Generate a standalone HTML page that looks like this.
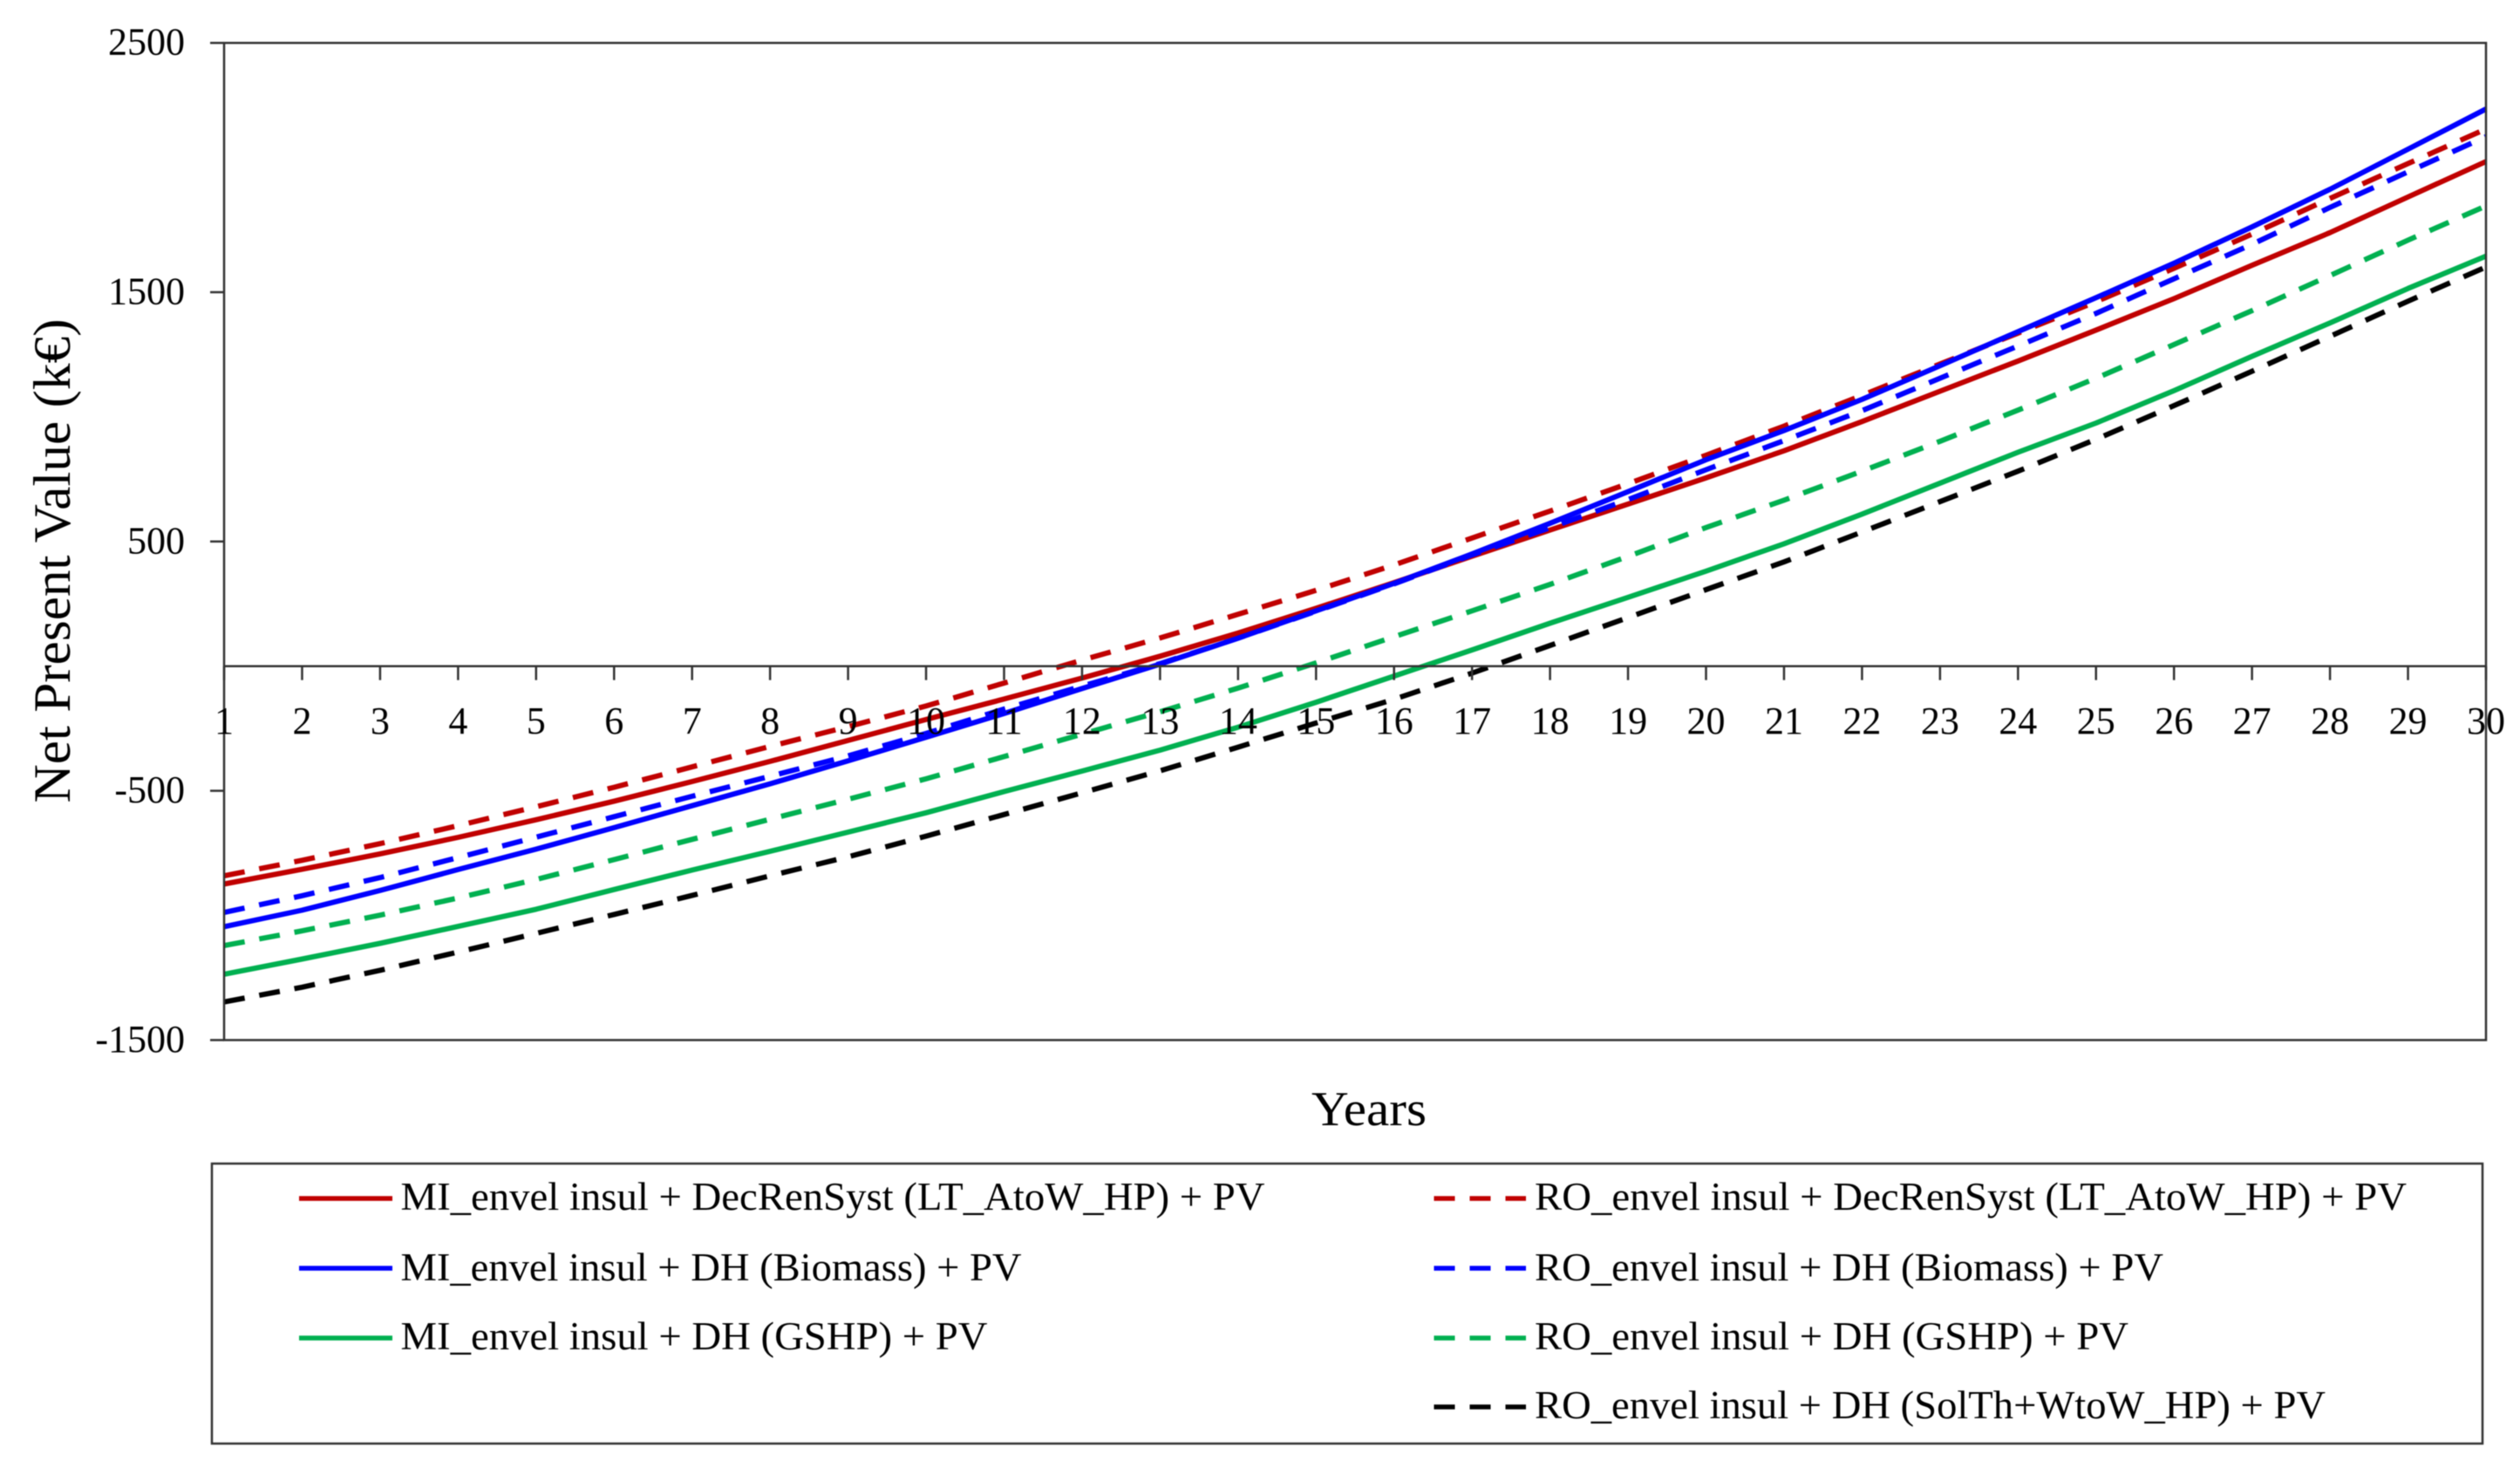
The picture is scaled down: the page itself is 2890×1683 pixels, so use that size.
<!DOCTYPE html>
<html lang="en">
<head>
<meta charset="utf-8">
<title>Net Present Value over Years</title>
<style>
html,body{margin:0;padding:0;background:#fff;}
svg{display:block;filter:blur(0.6px);}
text{font-family:"Liberation Serif",serif;fill:#000;}
</style>
</head>
<body>
<svg id="chart" xmlns="http://www.w3.org/2000/svg" width="2890" height="1683" viewBox="0 0 2890 1683">
  <rect x="0" y="0" width="2890" height="1683" fill="#fff"/>
  <g id="series-layer"></g>
  <g id="axis-layer"></g>
  <text x="1570" y="1290" font-size="56" text-anchor="middle" textLength="132" lengthAdjust="spacingAndGlyphs">Years</text>
  <text transform="translate(80 643) rotate(-90)" font-size="60" text-anchor="middle" textLength="555" lengthAdjust="spacingAndGlyphs">Net Present Value (k€)</text>
  <g>
    <rect x="243" y="1334" width="2604" height="321" fill="none" stroke="#333" stroke-width="2.5"/>
    <g>
      <line x1="343" x2="450" y1="1374" y2="1374" stroke="#C00000" stroke-width="5.5"/>
      <text x="459.5" y="1387" font-size="45" textLength="991" lengthAdjust="spacingAndGlyphs">MI_envel insul + DecRenSyst (LT_AtoW_HP) + PV</text>
    </g>
    <g>
      <line x1="343" x2="450" y1="1454" y2="1454" stroke="#0000FF" stroke-width="5.5"/>
      <text x="459.5" y="1468" font-size="45" textLength="712" lengthAdjust="spacingAndGlyphs">MI_envel insul + DH (Biomass) + PV</text>
    </g>
    <g>
      <line x1="343" x2="450" y1="1534" y2="1534" stroke="#00B050" stroke-width="5.5"/>
      <text x="459.5" y="1547" font-size="45" textLength="673" lengthAdjust="spacingAndGlyphs">MI_envel insul + DH (GSHP) + PV</text>
    </g>
    <g>
      <line x1="1644.5" x2="1750" y1="1374" y2="1374" stroke="#C00000" stroke-width="5.5" stroke-dasharray="24 17"/>
      <text x="1760" y="1387" font-size="45" textLength="1000" lengthAdjust="spacingAndGlyphs">RO_envel insul + DecRenSyst (LT_AtoW_HP) + PV</text>
    </g>
    <g>
      <line x1="1644.5" x2="1750" y1="1454" y2="1454" stroke="#0000FF" stroke-width="5.5" stroke-dasharray="24 17"/>
      <text x="1760" y="1468" font-size="45" textLength="721" lengthAdjust="spacingAndGlyphs">RO_envel insul + DH (Biomass) + PV</text>
    </g>
    <g>
      <line x1="1644.5" x2="1750" y1="1534" y2="1534" stroke="#00B050" stroke-width="5.5" stroke-dasharray="24 17"/>
      <text x="1760" y="1547" font-size="45" textLength="681" lengthAdjust="spacingAndGlyphs">RO_envel insul + DH (GSHP) + PV</text>
    </g>
    <g>
      <line x1="1644.5" x2="1750" y1="1613" y2="1613" stroke="#000" stroke-width="5.5" stroke-dasharray="24 17"/>
      <text x="1760" y="1626" font-size="45" textLength="907" lengthAdjust="spacingAndGlyphs">RO_envel insul + DH (SolTh+WtoW_HP) + PV</text>
    </g>
  </g>
</svg>
<script>
const years = [1,2,3,4,5,6,7,8,9,10,11,12,13,14,15,16,17,18,19,20,21,22,23,24,25,26,27,28,29,30];
const yTickLabels = [2500,1500,500,-500,-1500];
const miDecRen = [-874,-815,-753,-687,-616,-542,-463,-382,-298,-214,-132,-48,40,133,232,335,441,546,650,755,864,981,1103,1224,1348,1474,1608,1739,1882,2024];
const roDecRen = [-841,-779,-712,-640,-564,-486,-404,-322,-243,-160,-68,24,113,208,304,406,514,622,732,846,963,1086,1212,1336,1462,1596,1733,1876,2016,2155];
const miBiomass = [-1045,-979,-900,-816,-734,-648,-560,-472,-380,-285,-190,-90,8,112,222,332,450,573,700,828,945,1070,1205,1342,1478,1616,1762,1913,2074,2235];
const roBiomass = [-988,-921,-848,-768,-686,-604,-522,-442,-360,-270,-172,-80,10,112,220,330,446,555,668,788,905,1025,1155,1284,1415,1554,1692,1840,1983,2124];
const miGshp = [-1236,-1175,-1112,-1044,-975,-896,-818,-743,-666,-588,-503,-421,-337,-245,-145,-40,65,172,276,381,491,610,734,858,975,1105,1243,1377,1515,1645];
const roGshp = [-1121,-1062,-999,-930,-856,-776,-695,-614,-534,-452,-363,-273,-183,-88,13,118,222,328,440,556,666,782,902,1027,1155,1290,1426,1567,1709,1846];
const roSolTh = [-1347,-1288,-1220,-1147,-1072,-996,-920,-841,-765,-682,-595,-508,-420,-325,-228,-133,-28,83,195,307,418,538,660,782,910,1045,1183,1323,1464,1601];

const NS = 'http://www.w3.org/2000/svg';
const plotLeft = 257, plotRight = 2851, plotTop = 49.2, plotBottom = 1192.4;
const yMax = 2500, yMin = -1500;
function xScale(year){
  return plotLeft + (year - years[0]) * (plotRight - plotLeft) / (years[years.length-1] - years[0]);
}
function yScale(value){
  return plotTop + (yMax - value) * (plotBottom - plotTop) / (yMax - yMin);
}
const seriesLayer = document.getElementById('series-layer');
const axisLayer = document.getElementById('axis-layer');

function drawSeries(values, colour, dashed, name){
  const path = document.createElementNS(NS, 'polyline');
  
  
  path.setAttribute('points', values.map(function(v, i){ return xScale(years[i]).toFixed(1) + ',' + yScale(v).toFixed(1); }).join(' '));
  path.setAttribute('fill', 'none');
  path.setAttribute('stroke', colour);
  path.setAttribute('stroke-width', '6');
  path.setAttribute('stroke-linejoin', 'round');
  if (dashed) path.setAttribute('stroke-dasharray', '24 17');
  seriesLayer.appendChild(path);
}
drawSeries(miDecRen, '#C00000', false, 'line-mi-decren');
drawSeries(roDecRen, '#C00000', true, 'line-ro-decren');
drawSeries(miBiomass, '#0000FF', false, 'line-mi-biomass');
drawSeries(roBiomass, '#0000FF', true, 'line-ro-biomass');
drawSeries(miGshp, '#00B050', false, 'line-mi-gshp');
drawSeries(roGshp, '#00B050', true, 'line-ro-gshp');
drawSeries(roSolTh, '#000000', true, 'line-ro-solth');

const frame = document.createElementNS(NS, 'rect');


frame.setAttribute('x', plotLeft);
frame.setAttribute('y', plotTop);
frame.setAttribute('width', plotRight - plotLeft);
frame.setAttribute('height', plotBottom - plotTop);
frame.setAttribute('fill', 'none');
frame.setAttribute('stroke', '#333');
frame.setAttribute('stroke-width', '2.5');
axisLayer.appendChild(frame);

const zeroLine = document.createElementNS(NS, 'line');


zeroLine.setAttribute('x1', plotLeft);
zeroLine.setAttribute('x2', plotRight);
zeroLine.setAttribute('y1', yScale(0));
zeroLine.setAttribute('y2', yScale(0));
zeroLine.setAttribute('stroke', '#333');
zeroLine.setAttribute('stroke-width', '2.5');
axisLayer.appendChild(zeroLine);

yTickLabels.forEach(function(v){
  const tick = document.createElementNS(NS, 'line');
  
  
  tick.setAttribute('x1', plotLeft - 16);
  tick.setAttribute('x2', plotLeft);
  tick.setAttribute('y1', yScale(v));
  tick.setAttribute('y2', yScale(v));
  tick.setAttribute('stroke', '#333');
  tick.setAttribute('stroke-width', '2.5');
  axisLayer.appendChild(tick);
  const label = document.createElementNS(NS, 'text');
  
  
  label.setAttribute('x', 212);
  label.setAttribute('y', yScale(v) + 13.5);
  label.setAttribute('font-size', '44');
  label.setAttribute('text-anchor', 'end');
  label.textContent = v;
  axisLayer.appendChild(label);
});

years.forEach(function(year){
  const tick = document.createElementNS(NS, 'line');
  
  
  tick.setAttribute('x1', xScale(year));
  tick.setAttribute('x2', xScale(year));
  tick.setAttribute('y1', yScale(0));
  tick.setAttribute('y2', yScale(0) + 16);
  tick.setAttribute('stroke', '#333');
  tick.setAttribute('stroke-width', '2.5');
  axisLayer.appendChild(tick);
  const label = document.createElementNS(NS, 'text');
  
  
  label.setAttribute('x', xScale(year));
  label.setAttribute('y', 841);
  label.setAttribute('font-size', '44');
  label.setAttribute('text-anchor', 'middle');
  label.textContent = year;
  axisLayer.appendChild(label);
});
</script>
</body>
</html>
